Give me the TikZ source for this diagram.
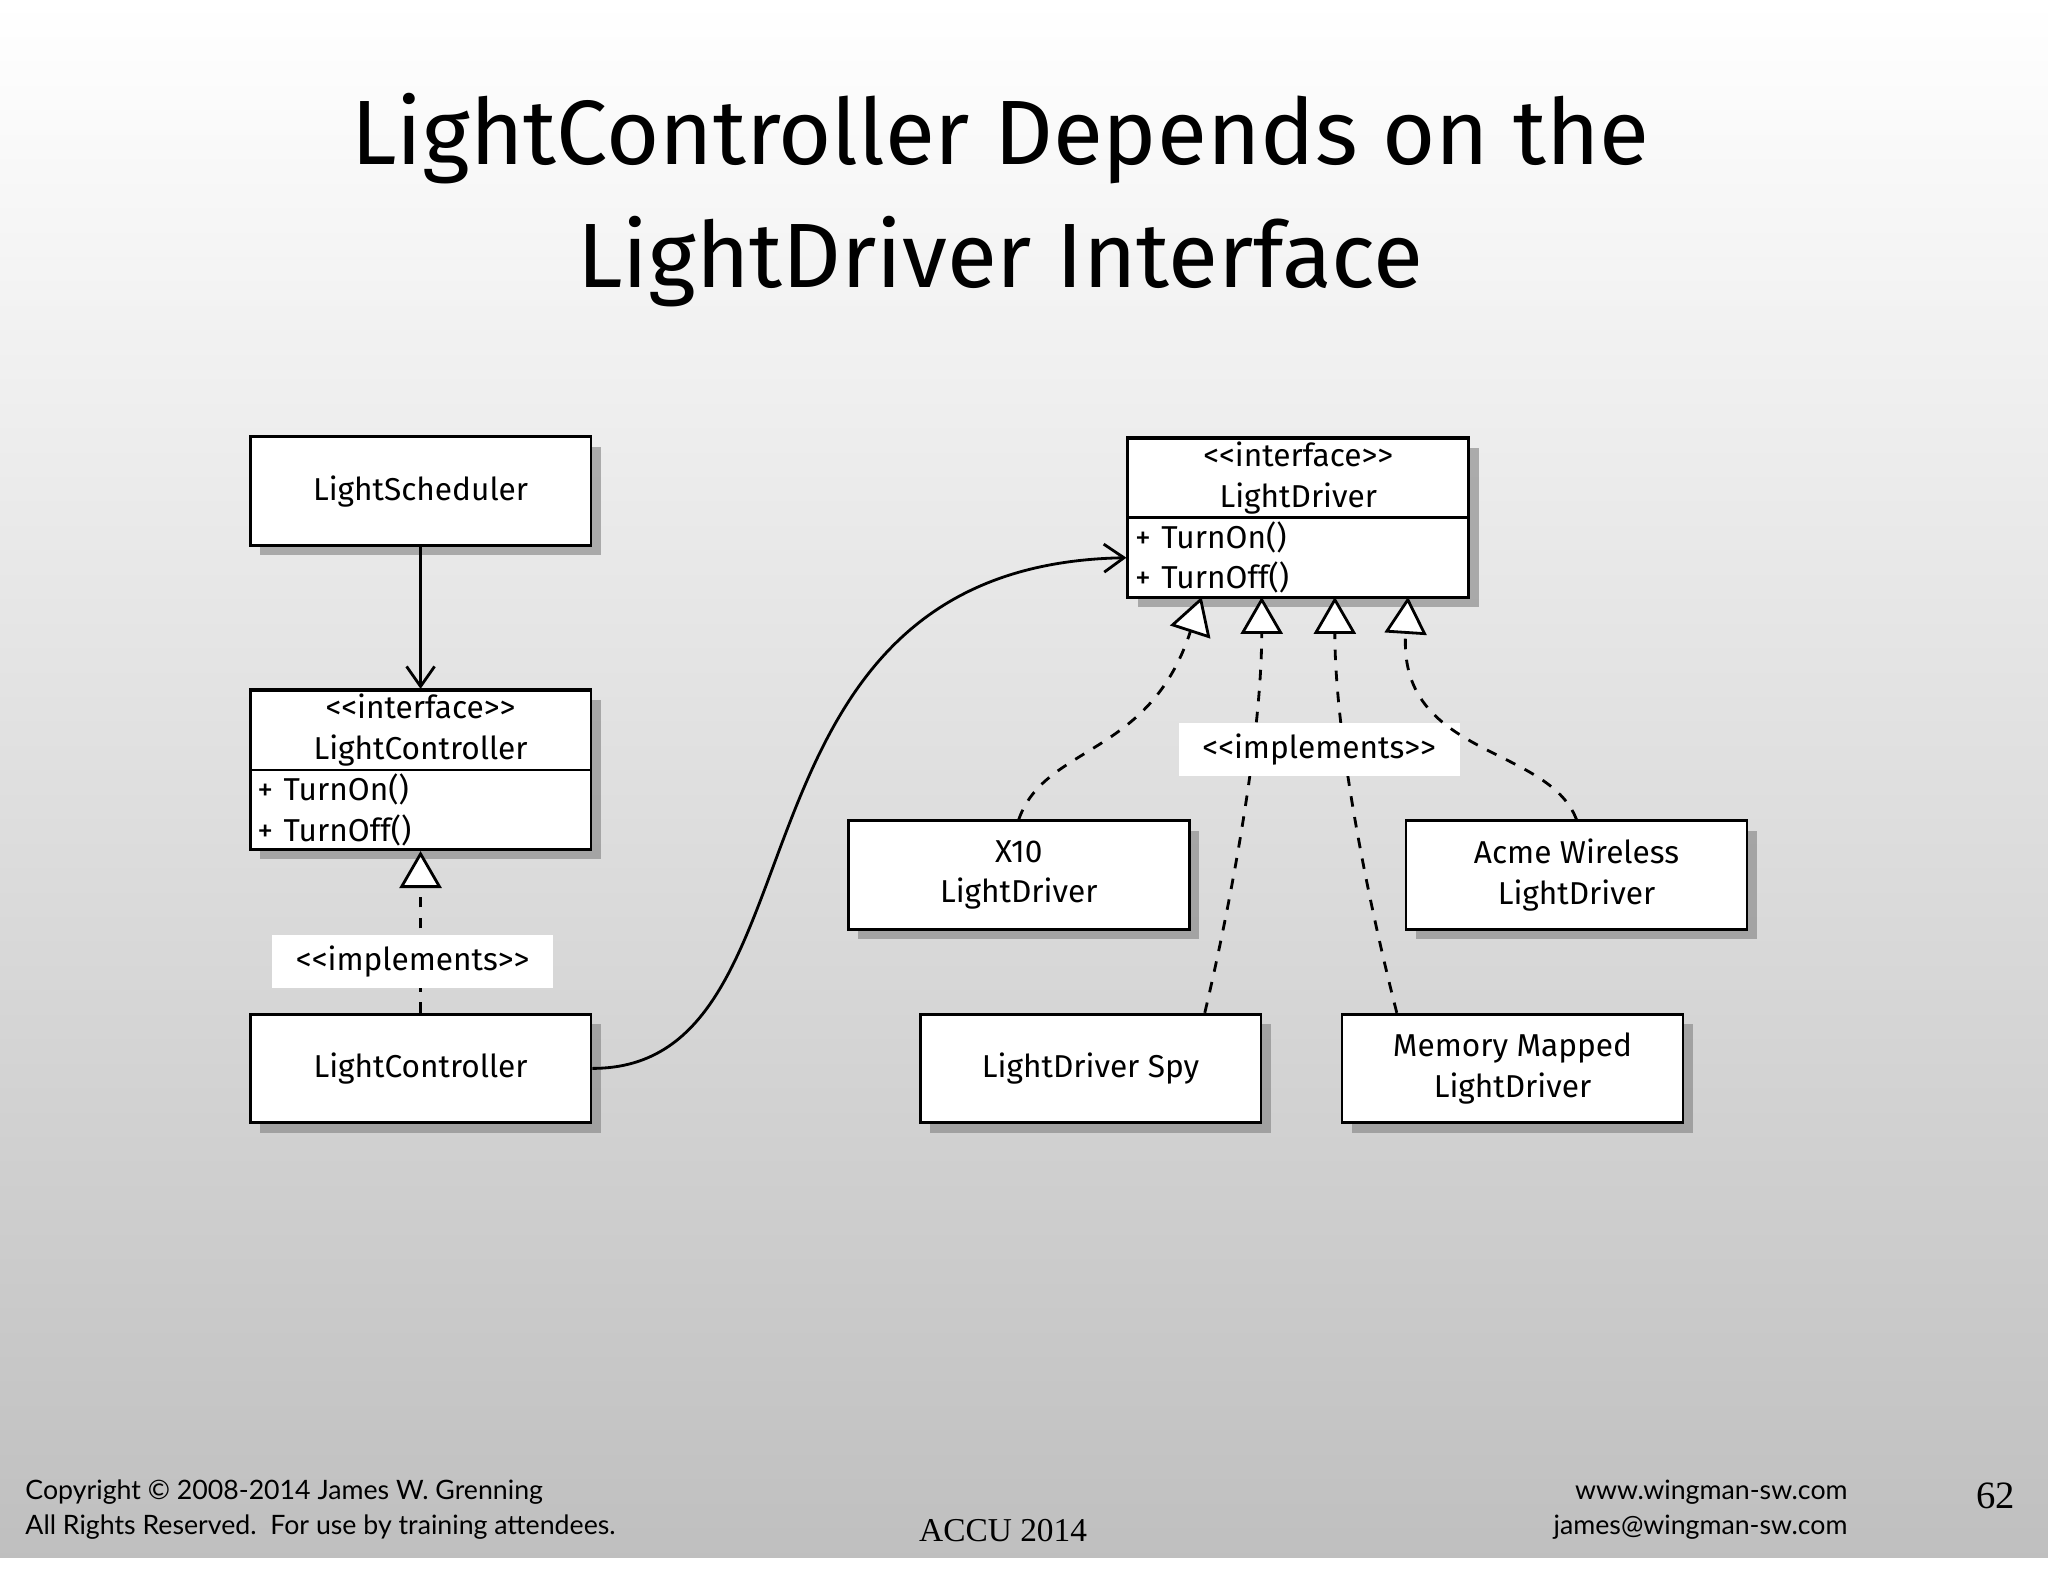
\documentclass[tikz,border=0pt]{standalone}
\usepackage{fontspec}
\setmainfont{Fira Sans}
\newfontfamily\footfont{Lato}
\newfontfamily\serif{Liberation Serif}
\usetikzlibrary{arrows.meta,shadows,positioning}
\tikzset{
  cls/.style={draw,thick,fill=white,minimum width=261\pxu,minimum height=83\pxu,
    align=center,font=\fontsize{9}{11.5}\selectfont,drop shadow={opacity=.6,shadow xshift=1mm,shadow yshift=-1mm}},
  part/.style={draw,thick,fill=white,minimum width=261\pxu,minimum height=61\pxu,
    align=center,inner sep=1pt,font=\fontsize{9}{11.5}\selectfont},
  impl/.style={dashed,thick,-{Triangle[open,fill=white,length=0.37cm,width=0.42cm]}},
  uses/.style={thick,-{Straight Barb[length=0.2cm,width=0.28cm]}},
  stereo/.style={fill=white,font=\fontsize{9}{11}\selectfont,inner sep=3pt,minimum width=215\pxu}
}
\newlength\pxu \setlength\pxu{0.013061cm}
\begin{document}
\begin{tikzpicture}[x=0.013061cm,y=-0.013061cm]
% background
\shade[top color=white,bottom color=black!25] (0,0) rectangle (1568,1193);
\fill[white] (0,1193) rectangle (1568,1211);
\useasboundingbox (0,0) rectangle (1568,1211);
% title
\node[font=\fontsize{26}{35}\selectfont,align=center] (title) at (766,153)
  {LightController Depends on the\\LightDriver Interface};
% left column
\node[cls] (sched) at (322,376) {LightScheduler};
\node[cls,minimum height=122\pxu] (lcishadow) at (322,589) {};
\node[part] (lci) at (322,559) {<{}<interface>{}>\\LightController};
\node[part,align=left,text width=250\pxu] (lciops) at (322,620) {+ TurnOn()\\+ TurnOff()};
\node[cls] (lc) at (322,818) {LightController};
% right side
\node[cls,minimum height=122\pxu] (ldishadow) at (994,396) {};
\node[part] (ldi) at (994,366) {<{}<interface>{}>\\LightDriver};
\node[part,align=left,text width=250\pxu] (ldiops) at (994,427) {+ TurnOn()\\+ TurnOff()};
\node[cls] (x10) at (780,670) {X10\\LightDriver};
\node[cls] (acme) at (1207,670) {Acme Wireless\\LightDriver};
\node[cls] (spy) at (835,818) {LightDriver Spy};
\node[cls] (mem) at (1158,818) {Memory Mapped\\LightDriver};
% connectors
\draw[uses] (sched) -- (lci);
\draw[impl] (lc) -- (lciops);
\node[stereo] (impl1) at (316,736) {<{}<implements>{}>};
\draw[uses] (lc.east) .. controls (640,818) and (540,433) .. (ldiops.west);
\coordinate (t1) at (920,457);
\coordinate (t2) at (966,457);
\coordinate (t3) at (1022,457);
\coordinate (t4) at (1078,457);
\draw[impl] (spy.north west) ++(219,0) .. controls (945,680) and (966,560) .. (t2);
\draw[impl] (mem.north west) ++(43,0) .. controls (1045,680) and (1022,560) .. (t3);
\node[stereo] (impl2) at (1010,574) {<{}<implements>{}>};
\draw[impl] (x10.north) .. controls (800,570) and (880,580) .. (t1);
\draw[impl] (acme.north) .. controls (1185,570) and (1070,580) .. (t4);
% footer
\node[anchor=west,align=left,font=\footfont\fontsize{7.6}{10}\selectfont] (copy) at (10,1156)
  {Copyright © 2008-2014 James W. Grenning\\All Rights Reserved.\ \ For use by training attendees.};
\node[font=\serif\fontsize{9.5}{12}\selectfont] (accu) at (768,1172) {ACCU 2014};
\node[anchor=east,align=right,font=\footfont\fontsize{7.6}{10}\selectfont] (web) at (1424,1156)
  {www.wingman-sw.com\\james@wingman-sw.com};
\node[font=\serif\fontsize{11}{13}\selectfont] (page) at (1528,1145) {62};
\end{tikzpicture}
\end{document}
